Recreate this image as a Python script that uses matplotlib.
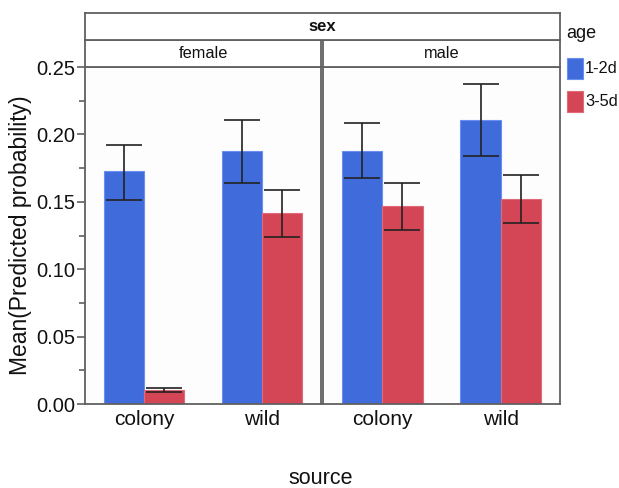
import matplotlib
matplotlib.use("Agg")
import matplotlib.pyplot as plt
from matplotlib.patches import Rectangle
import numpy as np

plt.rcParams['font.family'] = ['Liberation Sans', 'DejaVu Sans']

sexes = ["female", "male"]
sources = ["colony", "wild"]
ages = ["1-2d", "3-5d"]
colors = ["#3F6BDB", "#D44556"]
edge_colors = ["#6A8FF0", "#E06A78"]

# mean predicted probability [sex][age][source]
means = {
    "female": {"1-2d": [0.1726, 0.1875], "3-5d": [0.0104, 0.1414]},
    "male":   {"1-2d": [0.1877, 0.2108], "3-5d": [0.1466, 0.1523]},
}
lower = {
    "female": {"1-2d": [0.1510, 0.1637], "3-5d": [0.0088, 0.1240]},
    "male":   {"1-2d": [0.1674, 0.1838], "3-5d": [0.1290, 0.1340]},
}
upper = {
    "female": {"1-2d": [0.1920, 0.2106], "3-5d": [0.0119, 0.1585]},
    "male":   {"1-2d": [0.2088, 0.2374], "3-5d": [0.1637, 0.1701]},
}
yticks = [0.00, 0.05, 0.10, 0.15, 0.20, 0.25]

W, H = 619, 488
fig = plt.figure(figsize=(W / 100, H / 100), dpi=100)
fig.patch.set_facecolor("white")

def px_axes(x0, y0, x1, y1):
    return fig.add_axes([x0 / W, 1 - y1 / H, (x1 - x0) / W, (y1 - y0) / H])

frame_col = "#606060"
bar_w = 0.34
panels = [(85, 321), (323, 560)]
top, bottom = 67, 404

def style_frame(a):
    for s in a.spines.values():
        s.set_color(frame_col)
        s.set_linewidth(1.3)

for i, (sex, (xa, xb)) in enumerate(zip(sexes, panels)):
    ax = px_axes(xa, top, xb, bottom)
    x = np.arange(len(sources))
    for j, age in enumerate(ages):
        off = (j - 0.5) * bar_w
        m = np.array(means[sex][age])
        lo = np.array(lower[sex][age])
        hi = np.array(upper[sex][age])
        ax.bar(x + off, m, width=bar_w, color=colors[j],
               edgecolor=edge_colors[j], linewidth=0.8, zorder=2)
        ax.errorbar(x + off, m, yerr=[m - lo, hi - m], fmt="none",
                    ecolor="#222222", elinewidth=1.2, capsize=13,
                    capthick=1.2, zorder=3)
    ax.set_xlim(-0.5, 1.5)
    ax.set_ylim(0, 0.25)
    ax.set_xticks(x)
    ax.set_xticklabels(sources, fontsize=15)
    ax.tick_params(axis="x", length=0, pad=4, colors="#111111")
    ax.set_facecolor("#FDFDFD")
    style_frame(ax)
    if i == 0:
        ax.set_yticks(yticks)
        ax.set_yticklabels([f"{v:.2f}" for v in yticks], fontsize=14.5)
        ax.set_yticks(np.arange(0.025, 0.25, 0.05), minor=True)
        ax.tick_params(axis="y", which="major", length=6, width=1.2,
                       color=frame_col, pad=1, labelcolor="#111111")
        ax.tick_params(axis="y", which="minor", length=4, width=1.2,
                       color=frame_col)
        ax.set_ylabel("Mean(Predicted probability)", fontsize=16.5,
                      color="#111111", labelpad=3)
    else:
        ax.set_yticks([])

    # facet strip for each sex
    sax = px_axes(xa, 40, xb, top)
    sax.set_xticks([]); sax.set_yticks([])
    sax.set_facecolor("white")
    style_frame(sax)
    sax.text(0.5, 0.5, sex, ha="center", va="center", fontsize=11.8,
             color="#111111", transform=sax.transAxes)

# outer grouping strip
gax = px_axes(85, 13, 560, 40)
gax.set_xticks([]); gax.set_yticks([])
style_frame(gax)
gax.text(0.5, 0.5, "sex", ha="center", va="center", fontsize=12,
         fontweight="bold", color="#111111", transform=gax.transAxes)

fig.text(321 / W, 1 - 478 / H, "source", ha="center", va="center",
         fontsize=15.5, color="#111111")

# legend
fig.text(566 / W, 1 - 34 / H, "age", ha="left", va="center", fontsize=13,
         color="#111111")
legend_tops = [58, 91]
for j, age in enumerate(ages):
    y0 = legend_tops[j]
    fig.patches.append(Rectangle((567 / W, 1 - (y0 + 21) / H), 16 / W, 21 / H,
                                 transform=fig.transFigure, facecolor=colors[j],
                                 edgecolor=edge_colors[j], linewidth=0.8))
    fig.text(585 / W, 1 - (y0 + 10.5) / H, age, ha="left", va="center",
             fontsize=11.8, color="#111111")

fig.savefig("out.png", dpi=100)
